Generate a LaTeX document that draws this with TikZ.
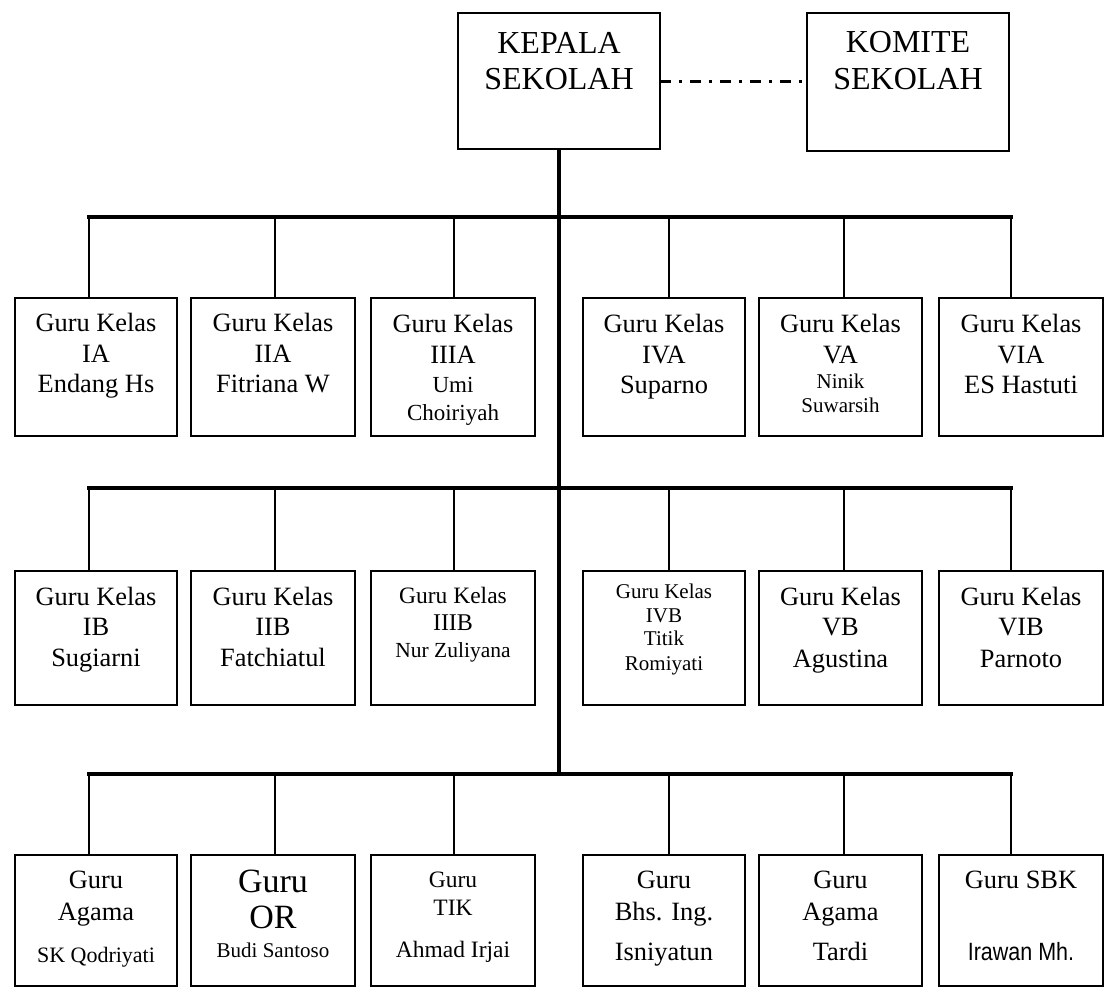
\documentclass[tikz,border=0pt]{standalone}
\usepackage{fontspec}
\usepackage{graphicx}
\setmainfont{Liberation Serif}
\newfontfamily\narrowsans{Liberation Sans}
% font size in points, leading equal to size
\newcommand\fs[1]{\fontsize{#1pt}{#1pt}\selectfont}
% exact distance between two baselines of a stack
\newcommand\gap[1]{\noalign{\vskip#1pt}}
% centred stack of lines; its reference point is the first baseline
\newcommand\stk[1]{\vtop{\baselineskip=0pt\lineskip=0pt\lineskiplimit=-\maxdimen
  \halign{\hfil##\hfil\cr#1\crcr}}}

\tikzset{
  box/.style={draw, line width=2pt, inner sep=0pt, outer sep=0pt},
  txt/.style={anchor=base, inner sep=0pt, outer sep=0pt, font=\fs{26.4}},
  head/.style={anchor=base, inner sep=0pt, outer sep=0pt, font=\fs{32}},
  bar/.style={line width=3.5pt, line cap=rect},
  trunk/.style={line width=4pt},
  drop/.style={line width=2.5pt},
  dashdot/.style={line width=3pt, dash pattern=on 11pt off 8pt on 3pt off 8pt}
}

\begin{document}
\begin{tikzpicture}[x=1pt, y=-1pt]
\useasboundingbox[fill=white] (0,0) rectangle (1109,989);

% ---- top level
\node[box, minimum width=202pt, minimum height=136pt] (kepala) at (559,81) {};
\node[box, minimum width=202pt, minimum height=138pt] (komite) at (908,82) {};
\node[head] (tkepala) at (559,53) {\stk{KEPALA\cr\gap{36}SEKOLAH}};
\node[head] (tkomite) at (908,52) {\stk{KOMITE\cr\gap{37}SEKOLAH}};
\draw[dashdot] (kepala.east) -- (kepala.east -| komite.west);

% ---- junction points on the three bars
\foreach \r/\y in {1/217, 2/488, 3/774}{
  \foreach \c/\x in {1/89, 2/275, 3/454, 4/669, 5/844, 6/1011}{
    \coordinate (j\r\c) at (\x,\y);
  }
}

% ---- row 1
\node[box, minimum width=162pt, minimum height=138pt] (b11) at (96,367) {};
\node[box, minimum width=164pt, minimum height=138pt] (b12) at (273,367) {};
\node[box, minimum width=164pt, minimum height=138pt] (b13) at (453,367) {};
\node[box, minimum width=162pt, minimum height=138pt] (b14) at (664,367) {};
\node[box, minimum width=163pt, minimum height=138pt] (b15) at (840.5,367) {};
\node[box, minimum width=164pt, minimum height=138pt] (b16) at (1021,367) {};

\node[txt] (t11) at (96,331) {\stk{Guru Kelas\cr\gap{31}IA\cr\gap{30}Endang Hs}};
\node[txt] (t12) at (273,331) {\stk{Guru Kelas\cr\gap{31}IIA\cr\gap{30}Fitriana W}};
\node[txt] (t13) at (453,332) {\stk{Guru Kelas\cr\gap{31}IIIA\cr\gap{29}\fs{23}Umi\cr\gap{28}\fs{23}Choiriyah}};
\node[txt] (t14) at (664,332) {\stk{Guru Kelas\cr\gap{31}IVA\cr\gap{30}Suparno}};
\node[txt] (t15) at (840.5,332) {\stk{Guru Kelas\cr\gap{31}VA\cr\gap{25}\fs{21}Ninik\cr\gap{24}\fs{21}Suwarsih}};
\node[txt] (t16) at (1021,332) {\stk{Guru Kelas\cr\gap{31}VIA\cr\gap{30}ES Hastuti}};

% ---- row 2
\node[box, minimum width=162pt, minimum height=134pt] (b21) at (96,638) {};
\node[box, minimum width=164pt, minimum height=134pt] (b22) at (273,638) {};
\node[box, minimum width=164pt, minimum height=134pt] (b23) at (453,638) {};
\node[box, minimum width=162pt, minimum height=134pt] (b24) at (664,638) {};
\node[box, minimum width=163pt, minimum height=134pt] (b25) at (840.5,638) {};
\node[box, minimum width=164pt, minimum height=134pt] (b26) at (1021,638) {};

\node[txt] (t21) at (96,605) {\stk{Guru Kelas\cr\gap{30}IB\cr\gap{31}Sugiarni}};
\node[txt] (t22) at (273,605) {\stk{Guru Kelas\cr\gap{30}IIB\cr\gap{31}Fatchiatul}};
\node[txt] (t23) at (453,603) {\stk{\fs{23.5}Guru Kelas\cr\gap{27}\fs{24}IIIB\cr\gap{27}\fs{21.5}Nur Zuliyana}};
\node[txt] (t24) at (664,598) {\stk{\fs{21}Guru Kelas\cr\gap{24}\fs{21}IVB\cr\gap{23}\fs{21}Titik\cr\gap{25}\fs{21}Romiyati}};
\node[txt] (t25) at (840.5,605) {\stk{Guru Kelas\cr\gap{30}VB\cr\gap{32}Agustina}};
\node[txt] (t26) at (1021,605) {\stk{Guru Kelas\cr\gap{30}VIB\cr\gap{32}Parnoto}};

% ---- row 3
\node[box, minimum width=162pt, minimum height=131pt] (b31) at (96,920.5) {};
\node[box, minimum width=164pt, minimum height=131pt] (b32) at (273,920.5) {};
\node[box, minimum width=164pt, minimum height=131pt] (b33) at (453,920.5) {};
\node[box, minimum width=162pt, minimum height=131pt] (b34) at (664,920.5) {};
\node[box, minimum width=163pt, minimum height=131pt] (b35) at (840.5,920.5) {};
\node[box, minimum width=164pt, minimum height=131pt] (b36) at (1021,920.5) {};

\node[txt] (t31) at (96,888) {\stk{Guru\cr\gap{32}Agama\cr\gap{42}\fs{22}SK Qodriyati}};
\node[txt] (t32) at (273,892) {\stk{\fs{34}Guru\cr\gap{36}\fs{34}OR\cr\gap{29}\fs{21}Budi Santoso}};
\node[txt] (t33) at (453,887) {\stk{\fs{23.5}Guru\cr\gap{28}\fs{23.5}TIK\cr\gap{42}\fs{23.5}Ahmad Irjai}};
\node[txt] (t34) at (664,888) {\stk{Guru\cr\gap{32}Bhs. Ing.\cr\gap{40}Isniyatun}};
\node[txt] (t35) at (840.5,888) {\stk{Guru\cr\gap{32}Agama\cr\gap{40}Tardi}};
\node[txt] (t36) at (1021,888) {\stk{Guru SBK\cr\gap{72}\scalebox{0.86}[1]{\narrowsans\fs{25}Irawan Mh.}}};

% ---- connectors
\draw[trunk] (kepala.south) -- (kepala.south |- j31);
\foreach \r in {1,2,3}{
  \draw[bar] (j\r1) -- (j\r6);
  \foreach \c in {1,...,6}{
    \draw[drop] (j\r\c) -- (j\r\c |- b\r\c.north);
  }
}
\end{tikzpicture}
\end{document}
